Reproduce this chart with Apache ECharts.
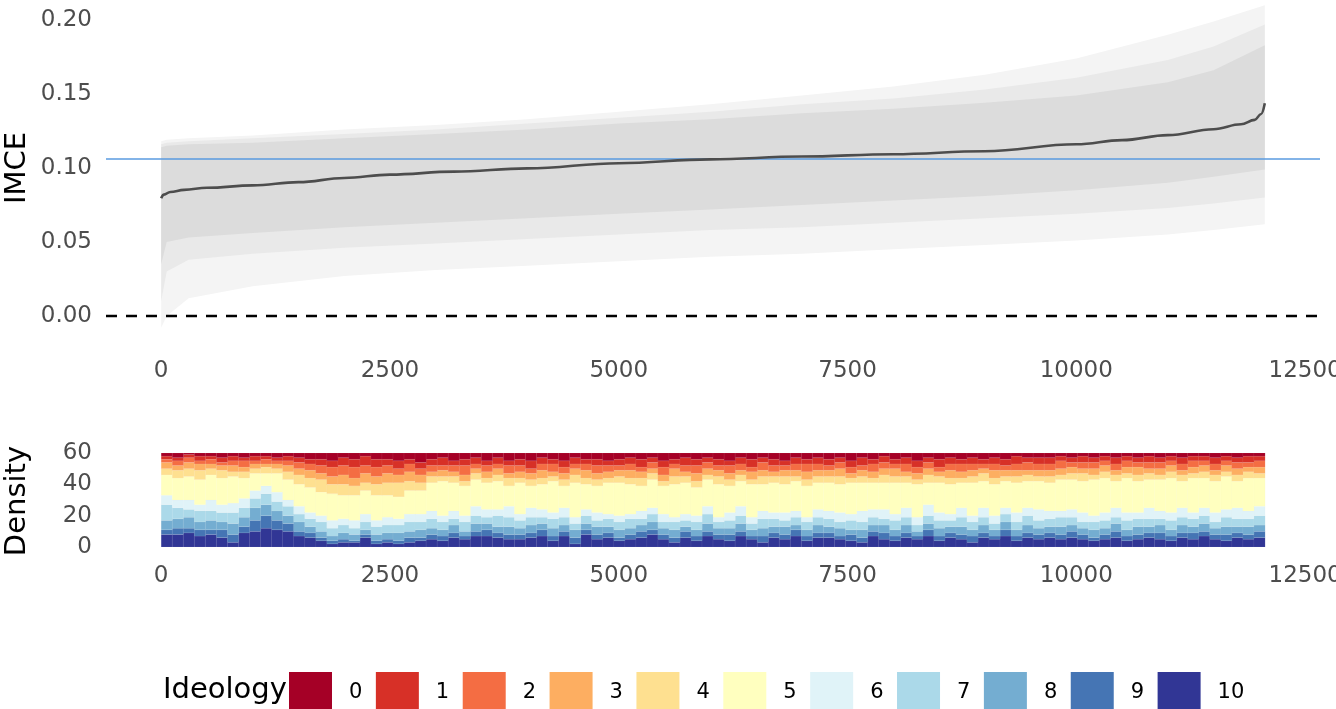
<!DOCTYPE html>
<html>
<head>
<meta charset="utf-8">
<script src="https://cdn.jsdelivr.net/npm/echarts@6/dist/echarts.min.js"></script>
<style>
  html, body { margin: 0; padding: 0; background: #ffffff; }
  #chart { width: 1336px; height: 709px; }
</style>
</head>
<body>
<div id="chart"></div>
<script>
// ---- Sorted IMCE estimates (rank -> value) ----
const imceRank  = [0, 30, 100, 250, 500, 1000, 1500, 2000, 2500, 3200, 4000, 5000, 6000, 7000, 8000, 9000, 10000, 10500, 11000, 11500, 11800, 11950, 12020, 12060];
const imceValue = [0.0795, 0.0820, 0.0838, 0.0852, 0.0866, 0.0882, 0.0904, 0.0932, 0.0955, 0.0975, 0.0997, 0.1032, 0.1058, 0.1077, 0.1093, 0.1113, 0.1160, 0.1188, 0.1222, 0.1262, 0.1295, 0.1325, 0.1365, 0.1437];

// ---- Confidence intervals: dense core, middle and faint outer extent ----
const ciRank      = [0, 60, 300, 1000, 2000, 3000, 4000, 5000, 6000, 7000, 8000, 9000, 10000, 11000, 11500, 12060];
const ciCoreLow   = [0.035, 0.050, 0.053, 0.056, 0.060, 0.063, 0.066, 0.069, 0.072, 0.075, 0.078, 0.081, 0.085, 0.090, 0.094, 0.099];
const ciCoreHigh  = [0.114, 0.115, 0.116, 0.117, 0.120, 0.123, 0.126, 0.130, 0.133, 0.137, 0.140, 0.144, 0.149, 0.158, 0.166, 0.183];
const ciMidLow    = [0.010, 0.030, 0.038, 0.042, 0.046, 0.049, 0.052, 0.055, 0.058, 0.060, 0.063, 0.066, 0.069, 0.073, 0.076, 0.080];
const ciMidHigh   = [0.116, 0.117, 0.118, 0.120, 0.123, 0.126, 0.130, 0.134, 0.138, 0.143, 0.147, 0.153, 0.161, 0.173, 0.182, 0.197];
const ciOuterLow  = [-0.008, 0.000, 0.012, 0.020, 0.027, 0.031, 0.034, 0.037, 0.040, 0.042, 0.045, 0.048, 0.051, 0.055, 0.058, 0.062];
const ciOuterHigh = [0.118, 0.119, 0.120, 0.122, 0.126, 0.129, 0.133, 0.138, 0.143, 0.149, 0.155, 0.163, 0.174, 0.190, 0.199, 0.210];

const averageImce = 0.106;

// ---- Ideology composition per rank bin (counts per bin, 100 bins) ----
const binSize = 120.6;
const ideologyLevels = ['0', '1', '2', '3', '4', '5', '6', '7', '8', '9', '10'];
const ideologyColors = ['#a50026', '#d73027', '#f46d43', '#fdae61', '#fee090', '#ffffbf', '#e0f3f8', '#abd9e9', '#74add1', '#4575b4', '#313695'];

const density0 = [2,3,1,2,2,3,2,3,2,2, 3,2,3,4,4,5,3,4,2,4, 4,5,4,6,4,3,5,4,3,5, 3,5,4,5,3,4,5,3,4,4, 5,4,3,4,3,5,4,3,4,3, 4,5,3,4,3,4,5,3,4,3, 4,3,5,3,4,2,4,3,5,3, 4,3,4,3,4,3,4,2,3,3, 3,2,3,2,3,2,3,2,3,2, 3,2,3,2,2,3,2,3,2,2];
const density1 = [2,2,2,3,2,3,3,2,3,2, 2,3,3,3,4,4,5,5,6,5, 4,5,3,4,4,5,3,4,4,3, 4,3,4,5,4,3,4,4,3,4, 3,4,4,5,3,4,3,5,4,3, 4,3,4,5,3,4,3,4,3,4, 4,3,4,5,3,4,3,4,4,3, 5,4,3,4,3,4,4,5,3,4, 4,3,3,4,3,3,4,3,3,4, 3,3,4,3,3,4,3,3,4,3];
const density2 = [2,3,3,2,3,2,3,4,2,3, 2,3,4,4,5,6,6,7,5,6, 5,4,5,4,4,3,4,6,3,4, 3,5,4,3,4,5,4,3,4,5, 4,3,4,3,4,5,3,4,5,4, 3,5,4,3,5,4,3,4,5,4, 3,4,4,3,5,4,3,5,4,4, 3,4,5,4,3,4,3,4,5,4, 4,5,3,4,4,3,4,4,3,4, 4,3,4,4,3,4,3,4,3,4];
const density3 = [4,3,4,4,3,3,4,3,3,2, 3,4,4,5,4,5,6,5,6,5, 6,5,6,5,3,4,3,4,3,4, 4,3,4,4,5,3,4,4,5,4, 4,4,5,4,3,4,5,3,5,4, 4,4,3,5,4,3,4,4,5,4, 4,5,3,4,4,4,5,3,4,4, 3,5,4,4,3,5,4,4,3,4, 4,4,4,3,4,4,3,4,5,3, 4,4,3,4,4,3,4,4,3,4];
const density4 = [4,5,5,6,4,5,3,4,3,4, 3,5,6,6,8,6,7,6,5,7, 8,9,6,5,4,3,4,3,4,3, 4,5,3,4,4,3,4,5,4,4, 3,4,4,5,4,3,5,4,4,3, 5,4,4,3,5,4,5,3,4,4, 4,5,3,4,3,5,4,4,3,5, 4,4,3,4,5,4,3,4,4,3, 4,3,4,5,3,4,4,3,4,4, 3,4,4,3,4,4,3,4,4,3];
const density5 = [13,14,15,16,16,17,17,13,11,8, 12,13,14,16,15,17,15,16,15,16, 14,14,15,15,18,22,18,19,17,17, 18,13,20,14,16,20,14,22,16,17, 20,21,19,16,18,18,21,20,18,17, 21,17,16,21,17,19,18,19,20,17, 18,18,20,18,17,17,20,16,21,14, 19,19,16,21,17,20,17,19,17,18, 18,20,19,20,23,22,17,22,20,18, 20,22,17,22,19,20,21,17,21,18];
const density6 = [6,5,6,4,7,5,6,6,5,5, 6,4,5,4,4,5,4,5,5,4, 5,4,5,5,5,4,5,4,6,5, 4,7,4,6,5,4,6,4,4,5, 3,4,3,5,4,5,3,4,4,5, 3,5,6,4,5,4,5,4,3,5, 5,6,4,7,5,6,4,6,5,7, 5,4,6,4,6,5,4,6,5,7, 5,4,5,6,4,5,6,5,4,7, 5,5,6,4,5,6,5,7,5,6];
const density7 = [10,7,5,7,6,6,7,6,6,7, 6,6,5,5,6,5,5,4,5,5, 5,5,6,5,6,5,4,6,5,4, 7,6,5,5,4,6,5,4,5,4, 5,5,6,4,5,4,5,4,5,6, 4,5,5,4,6,5,4,5,5,5, 5,4,6,5,5,4,6,5,4,5, 5,4,6,5,5,4,5,5,6,5, 5,6,5,4,5,5,4,6,5,5, 4,6,5,5,5,4,6,5,5,6];
const density8 = [6,6,7,5,6,5,7,6,8,7, 6,5,6,4,4,3,4,4,3,4, 4,5,4,5,4,4,5,3,5,4, 4,5,4,5,4,5,4,5,4,5, 4,5,4,4,5,4,5,3,4,5, 4,4,5,4,5,4,5,3,4,5, 4,5,3,5,4,5,4,5,3,4, 5,4,5,4,5,4,5,4,5,4, 4,5,4,4,5,4,5,4,5,4, 5,4,5,4,5,4,5,4,5,4];
const density9 = [3,4,3,4,3,5,5,4,7,8, 6,5,3,3,2,2,2,1,2,2, 2,2,3,2,3,3,3,2,3,4, 3,3,3,3,4,3,3,4,3,3, 3,2,3,4,3,3,3,4,3,3, 3,4,3,2,4,3,3,4,3,3, 3,2,4,3,3,4,3,3,2,4, 3,3,3,4,3,2,4,3,3,3, 3,3,4,3,2,3,4,3,3,3, 4,3,3,4,3,3,4,3,3,4];
const density10 = [8,8,9,7,8,6,3,9,10,12, 11,10,7,6,4,2,3,3,6,2, 3,2,3,4,5,4,6,5,7,7, 6,5,5,6,7,4,7,2,8,5, 6,4,5,6,8,5,3,6,4,7, 5,4,7,5,3,6,5,7,4,6, 6,5,4,3,7,5,4,6,5,7, 4,6,5,3,6,5,7,4,6,5, 6,5,6,5,4,5,6,4,5,6, 5,4,6,5,7,5,4,6,5,6];
const densityByLevel = [density0, density1, density2, density3, density4, density5, density6, density7, density8, density9, density10];

// ---- Axis ticks ----
const rankTicks = [0, 2500, 5000, 7500, 10000, 12500];
const imceTicks = [0, 0.05, 0.10, 0.15, 0.20];
const densityTicks = [0, 20, 40, 60];

// ---- Layout ----
const FONT = 'DejaVu Sans';
const TICK_COLOR = '#4d4d4d';
const X_MIN = -603, X_MAX = 12663;
const GRID_LEFT = 106, GRID_RIGHT = 16;

const chart = echarts.init(document.getElementById('chart'), null, { renderer: 'canvas' });

// Filled CI band between two polylines, drawn as one polygon
function bandSeries(lows, highs, color) {
  return {
    type: 'custom',
    xAxisIndex: 0, yAxisIndex: 0,
    silent: true, z: 1,
    data: ciRank.map((x, i) => [x, lows[i], highs[i]]),
    encode: { x: 0, y: [1, 2] },
    renderItem(params, api) {
      if (params.dataIndex !== 0) return null;
      const pts = [];
      for (let i = 0; i < ciRank.length; i++) pts.push(api.coord([ciRank[i], highs[i]]));
      for (let i = ciRank.length - 1; i >= 0; i--) pts.push(api.coord([ciRank[i], lows[i]]));
      return { type: 'polygon', shape: { points: pts }, style: { fill: color } };
    }
  };
}

// Stacked composition bars: level 10 at the bottom, level 0 on top
const barSeries = [];
const nBins = density0.length;
const stackBase = new Array(nBins).fill(0);
for (let k = ideologyLevels.length - 1; k >= 0; k--) {
  const vals = densityByLevel[k];
  const items = vals.map((v, i) => {
    const item = [i * binSize, (i + 1) * binSize, stackBase[i], stackBase[i] + v];
    stackBase[i] += v;
    return item;
  });
  const color = ideologyColors[k];
  barSeries.push({
    type: 'custom',
    name: ideologyLevels[k],
    xAxisIndex: 1, yAxisIndex: 1,
    silent: true,
    itemStyle: { color: color },
    data: items,
    encode: { x: [0, 1], y: [2, 3] },
    renderItem(params, api) {
      const a = api.coord([api.value(0), api.value(3)]);
      const b = api.coord([api.value(1), api.value(2)]);
      return {
        type: 'rect',
        shape: { x: a[0], y: a[1], width: b[0] - a[0] + 0.3, height: b[1] - a[1] },
        style: { fill: color, stroke: 'rgba(235,235,235,0.18)', lineWidth: 0.4 }
      };
    }
  });
}

const axisLabelBase = { fontFamily: FONT, fontSize: 23, color: TICK_COLOR };

const gridBase = { left: GRID_LEFT, right: GRID_RIGHT, outerBoundsMode: 'none', containLabel: false };

const option = {
  animation: false,
  backgroundColor: '#ffffff',
  grid: [
    Object.assign({ top: 0, height: 334 }, gridBase),
    Object.assign({ top: 448.3, height: 103.4 }, gridBase)
  ],
  xAxis: [
    {
      type: 'value', gridIndex: 0, min: X_MIN, max: X_MAX,
      axisLine: { show: false }, axisTick: { show: false }, splitLine: { show: false },
      axisLabel: Object.assign({ customValues: rankTicks, margin: 26, formatter: v => String(v) }, axisLabelBase)
    },
    {
      type: 'value', gridIndex: 1, min: X_MIN, max: X_MAX,
      axisLine: { show: false }, axisTick: { show: false }, splitLine: { show: false },
      axisLabel: Object.assign({ customValues: rankTicks, margin: 13, formatter: v => String(v) }, axisLabelBase)
    }
  ],
  yAxis: [
    {
      type: 'value', gridIndex: 0, min: -0.0122, max: 0.2135,
      axisLine: { show: false }, axisTick: { show: false }, splitLine: { show: false },
      axisLabel: Object.assign({ customValues: imceTicks, margin: 14, formatter: v => v.toFixed(2) }, axisLabelBase)
    },
    {
      type: 'value', gridIndex: 1, min: -3, max: 63,
      axisLine: { show: false }, axisTick: { show: false }, splitLine: { show: false },
      axisLabel: Object.assign({ customValues: densityTicks, margin: 14, formatter: v => String(v) }, axisLabelBase)
    }
  ],
  legend: {
    data: ideologyLevels,
    left: 284, top: 667,
    orient: 'horizontal',
    icon: 'rect',
    itemWidth: 43, itemHeight: 41,
    itemGap: 13.5,
    selectedMode: false,
    textStyle: { fontFamily: FONT, fontSize: 21, color: '#000000', width: 15, padding: [0, 0, 0, 12] }
  },
  graphic: [
    { type: 'text', x: 17, y: 168, rotation: Math.PI / 2,
      style: { text: 'IMCE', fontFamily: FONT, fontSize: 29, fill: '#000000', align: 'center', verticalAlign: 'middle' } },
    { type: 'text', x: 17, y: 501, rotation: Math.PI / 2,
      style: { text: 'Density', fontFamily: FONT, fontSize: 29, fill: '#000000', align: 'center', verticalAlign: 'middle' } },
    { type: 'text', x: 163, y: 690,
      style: { text: 'Ideology', fontFamily: FONT, fontSize: 29, fill: '#000000', align: 'left', verticalAlign: 'middle' } }
  ],
  series: [
    bandSeries(ciOuterLow, ciOuterHigh, '#f4f4f4'),
    bandSeries(ciMidLow, ciMidHigh, '#e9e9e9'),
    bandSeries(ciCoreLow, ciCoreHigh, '#dcdcdc'),
    {
      // sample average reference line
      type: 'line', xAxisIndex: 0, yAxisIndex: 0,
      data: [[X_MIN, averageImce], [X_MAX, averageImce]],
      showSymbol: false, silent: true, z: 3,
      lineStyle: { color: '#5a9be0', width: 1.5 }
    },
    {
      // zero reference
      type: 'line', xAxisIndex: 0, yAxisIndex: 0,
      data: [[X_MIN, 0], [X_MAX, 0]],
      showSymbol: false, silent: true, z: 3,
      lineStyle: { color: '#000000', width: 2.5, type: [11, 9] }
    },
    {
      type: 'line',
      xAxisIndex: 0, yAxisIndex: 0,
      data: imceRank.map((x, i) => [x, imceValue[i]]),
      smooth: 0.4, smoothMonotone: 'x',
      showSymbol: false, silent: true, z: 5,
      lineStyle: { color: '#4d4d4d', width: 2.6 }
    },
    ...barSeries
  ]
};

chart.setOption(option);
</script>
</body>
</html>
